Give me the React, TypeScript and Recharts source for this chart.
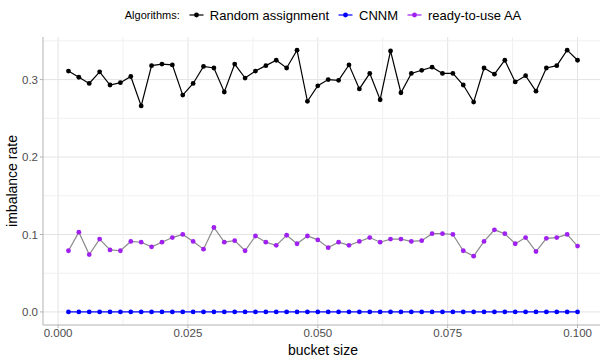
import React from 'react';
import {
  LineChart,
  Line,
  XAxis,
  YAxis,
  CartesianGrid,
  ReferenceLine,
} from 'recharts';

const bucketSizes = [
  0.002, 0.004, 0.006, 0.008, 0.01, 0.012, 0.014, 0.016, 0.018, 0.02,
  0.022, 0.024, 0.026, 0.028, 0.03, 0.032, 0.034, 0.036, 0.038, 0.04,
  0.042, 0.044, 0.046, 0.048, 0.05, 0.052, 0.054, 0.056, 0.058, 0.06,
  0.062, 0.064, 0.066, 0.068, 0.07, 0.072, 0.074, 0.076, 0.078, 0.08,
  0.082, 0.084, 0.086, 0.088, 0.09, 0.092, 0.094, 0.096, 0.098, 0.1,
];

const randomAssignment = [
  0.311, 0.303, 0.295, 0.31, 0.293, 0.296, 0.304, 0.266, 0.318, 0.32,
  0.319, 0.28, 0.295, 0.317, 0.315, 0.284, 0.32, 0.302, 0.311, 0.318,
  0.325, 0.315, 0.338, 0.272, 0.292, 0.3, 0.299, 0.319, 0.288, 0.308,
  0.274, 0.337, 0.283, 0.308, 0.312, 0.316, 0.308, 0.308, 0.293, 0.271,
  0.315, 0.307, 0.325, 0.297, 0.305, 0.285, 0.315, 0.318, 0.338, 0.325,
];

const cnnm = [
  0, 0, 0, 0, 0, 0, 0, 0, 0, 0,
  0, 0, 0, 0, 0, 0, 0, 0, 0, 0,
  0, 0, 0, 0, 0, 0, 0, 0, 0, 0,
  0, 0, 0, 0, 0, 0, 0, 0, 0, 0,
  0, 0, 0, 0, 0, 0, 0, 0, 0, 0,
];

const readyToUse = [
  0.079, 0.103, 0.074, 0.094, 0.08, 0.079, 0.091, 0.09, 0.084, 0.09,
  0.096, 0.1, 0.091, 0.081, 0.109, 0.09, 0.092, 0.079, 0.098, 0.09,
  0.086, 0.099, 0.088, 0.098, 0.093, 0.083, 0.09, 0.086, 0.091, 0.096,
  0.09, 0.094, 0.094, 0.091, 0.092, 0.101, 0.101, 0.1, 0.079, 0.072,
  0.091, 0.106, 0.101, 0.088, 0.096, 0.078, 0.095, 0.096, 0.1, 0.085,
];

const xTicks = [0, 0.025, 0.05, 0.075, 0.1];
const xMinor = [0.0125, 0.0375, 0.0625, 0.0875];
const yTicks = [0, 0.1, 0.2, 0.3];
const yMinor = [0.05, 0.15, 0.25, 0.35];

const legendItems = [
  { name: 'Random assignment', color: '#000000' },
  { name: 'CNNM', color: '#0000ff' },
  { name: 'ready-to-use AA', color: '#a020f0' },
];

const data = bucketSizes.map((b, i) => ({
  bucket: b,
  random: randomAssignment[i],
  cnnm: cnnm[i],
  ready: readyToUse[i],
}));

const font = '"Liberation Sans", Arial, sans-serif';

const LegendKey = ({ color }: { color: string }) => (
  <svg width={15} height={10} style={{ display: 'block' }}>
    <line x1={0.5} y1={5} x2={14.5} y2={5} stroke={color} strokeWidth={1.2} />
    <circle cx={7.5} cy={5} r={2.4} fill={color} />
  </svg>
);

const App = () => {
  return (
    <div
      style={{
        position: 'absolute',
        left: 0,
        top: 0,
        width: 600,
        height: 358,
        overflow: 'hidden',
        background: '#fff',
        fontFamily: font,
      }}
    >
      <div
        style={{
          position: 'absolute',
          left: 0,
          top: 6,
          width: 646,
          display: 'flex',
          justifyContent: 'center',
          alignItems: 'center',
          height: 18,
          whiteSpace: 'nowrap',
        }}
      >
        <span style={{ fontSize: 11, color: '#000', marginRight: 9 }}>Algorithms:</span>
        {legendItems.map((item, i) => (
          <span
            key={item.name}
            style={{ display: 'flex', alignItems: 'center', marginRight: i < legendItems.length - 1 ? 9 : 0 }}
          >
            <LegendKey color={item.color} />
            <span style={{ fontSize: 13, color: '#000', marginLeft: 6 }}>{item.name}</span>
          </span>
        ))}
      </div>

      <LineChart
        width={603}
        height={358}
        data={data}
        margin={{ top: 37, right: 0, bottom: 0, left: 0 }}
        style={{ fontFamily: font }}
      >
        <CartesianGrid
          stroke="#e3e3e3"
          horizontalValues={yTicks}
          verticalValues={xTicks}
        />
        {xMinor.map((v) => (
          <ReferenceLine key={`xm${v}`} x={v} stroke="#f0f0f0" strokeWidth={1} />
        ))}
        {yMinor.map((v) => (
          <ReferenceLine key={`ym${v}`} y={v} stroke="#f0f0f0" strokeWidth={1} />
        ))}
        <XAxis
          dataKey="bucket"
          type="number"
          domain={[-0.0029, 0.1049]}
          ticks={xTicks}
          tickFormatter={(v: number) => v.toFixed(3)}
          height={33}
          stroke="#b3b3b3"
          tickSize={3}
          tickMargin={1}
          tick={{ fill: '#4d4d4d', fontSize: 11.5 }}
          allowDataOverflow
          label={{ value: 'bucket size', position: 'insideBottom', offset: 3, fill: '#000', fontSize: 14 }}
        />
        <XAxis
          xAxisId="top"
          orientation="top"
          dataKey="bucket"
          type="number"
          domain={[-0.0029, 0.1049]}
          height={0}
          tick={false}
          tickLine={false}
          stroke="#b3b3b3"
        />
        <YAxis
          type="number"
          domain={[-0.0169, 0.355]}
          ticks={yTicks}
          tickFormatter={(v: number) => v.toFixed(1)}
          width={43}
          stroke="#b3b3b3"
          tickSize={3}
          tickMargin={2}
          tick={{ fill: '#4d4d4d', fontSize: 11.5 }}
          allowDataOverflow
          label={{ value: 'imbalance rate', angle: -90, position: 'center', dx: -9, fill: '#000', fontSize: 14 }}
        />
        <Line
          type="linear"
          dataKey="random"
          stroke="#000000"
          strokeWidth={1.2}
          dot={{ r: 2.4, fill: '#000000', stroke: 'none' }}
          isAnimationActive={false}
        />
        <Line
          type="linear"
          dataKey="cnnm"
          stroke="#0000ff"
          strokeWidth={1.2}
          dot={{ r: 2.4, fill: '#0000ff', stroke: 'none' }}
          isAnimationActive={false}
        />
        <Line
          type="linear"
          dataKey="ready"
          stroke="#8a8a8a"
          strokeWidth={1.2}
          dot={{ r: 2.4, fill: '#a020f0', stroke: 'none' }}
          isAnimationActive={false}
        />
      </LineChart>
    </div>
  );
};

export default App;
